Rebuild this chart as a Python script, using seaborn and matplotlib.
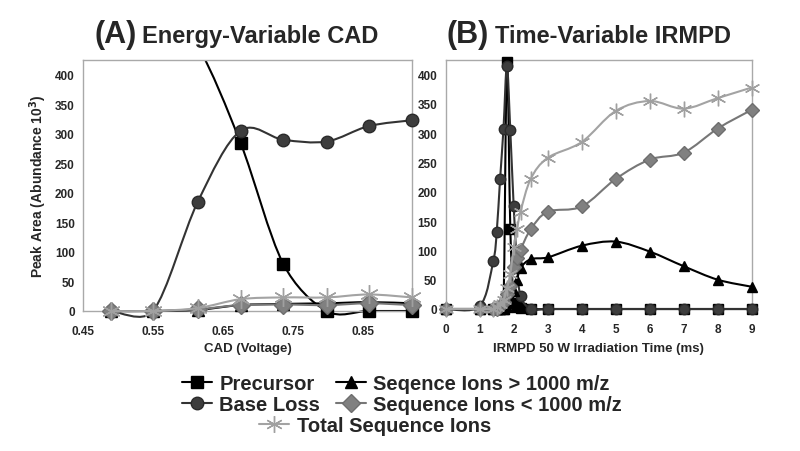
import numpy as np
import matplotlib
matplotlib.use('Agg')
import matplotlib.pyplot as plt
import seaborn as sns
from matplotlib.path import Path
from matplotlib.patches import PathPatch
from matplotlib.lines import Line2D
from matplotlib.transforms import Bbox, TransformedBbox

sns.set_style('white')
plt.rcParams['font.family'] = ['Liberation Sans', 'DejaVu Sans']
plt.rcParams['font.weight'] = 'bold'
plt.rcParams['axes.labelweight'] = 'bold'

# ---- data ----
cad_voltage = [0.49, 0.55, 0.614, 0.675, 0.736, 0.798, 0.858, 0.92]
precursor_a = [600, 560, 450, 285, 80, 0, 0, 0]
base_loss_a = [0, 0, 185, 305, 290, 287, 313, 323]
seq_hi_a = [0, 0, 2, 10, 12, 13, 15, 13]
seq_lo_a = [0, 0, 3, 10, 11, 10, 13, 10]
total_a = [0, 0, 5, 20, 23, 23, 28, 23]

irmpd_time = [0, 1, 1.4, 1.5, 1.6, 1.7, 1.8, 1.9, 2.0, 2.1, 2.2, 2.5, 3, 4, 5, 6, 7, 8, 9]
precursor_b = [0, 0, 0, 0, 0, 0, 421, 137, 10, 3, 2, 0, 0, 0, 0, 0, 0, 0, 0]
base_loss_b = [0, 5, 82, 131, 222, 308, 415, 305, 175, 75, 22, 0, 0, 0, 0, 0, 0, 0, 0]
seq_hi_b = [0, 0, 0, 0, 0, 0, 3, 10, 30, 50, 70, 85, 88, 108, 115, 98, 73, 50, 38]
seq_lo_b = [0, 0, 0, 0, 5, 12, 25, 40, 72, 87, 101, 136, 166, 175, 222, 255, 267, 308, 340]
total_b = [0, 0, 0, 3, 8, 15, 35, 60, 105, 137, 166, 222, 258, 285, 338, 355, 342, 360, 378]

labels = ['Precursor', 'Base Loss', 'Seqence Ions > 1000 m/z',
          'Sequence Ions < 1000 m/z', 'Total Sequence Ions']

styles = {
    'Precursor': dict(marker='s', color='#000000', mec='#000000', line='#000000'),
    'Base Loss': dict(marker='o', color='#3d3d3d', mec='#2a2a2a', line='#333333'),
    'Seqence Ions > 1000 m/z': dict(marker='^', color='#000000', mec='#000000', line='#000000'),
    'Sequence Ions < 1000 m/z': dict(marker='D', color='#808080', mec='#6e6e6e', line='#777777'),
    'Total Sequence Ions': dict(marker=(6, 2, 0), color='#a0a0a0', mec='#a0a0a0', line='#a3a3a3'),
}


def smooth_path(ax, x, y, k=0.4):
    # Bezier "smoothed line" in screen space; handle length capped by the segment length
    pts = ax.transData.transform(np.column_stack([x, y]).astype(float))
    n = len(pts)
    tang = [(pts[min(i + 1, n - 1)] - pts[max(i - 1, 0)]) / 6 for i in range(n)]

    def cap(v, L):
        m = np.hypot(*v)
        return v * (k * L / m) if m > k * L else v

    verts = [pts[0]]
    codes = [Path.MOVETO]
    for i in range(n - 1):
        p1, p2 = pts[i], pts[i + 1]
        L = np.hypot(*(p2 - p1))
        verts += [p1 + cap(tang[i], L), p2 - cap(tang[i + 1], L), p2]
        codes += [Path.CURVE4] * 3
    verts = ax.transData.inverted().transform(np.array(verts))
    return Path(verts, codes)


def draw_panel(ax, x, series, ms, xlim, pad):
    ax.set_xlim(*xlim)
    ax.set_ylim(0, 425)
    line_clip = TransformedBbox(Bbox([[xlim[0] - pad, -30], [xlim[1] + pad, 425]]), ax.transData)
    mark_clip = TransformedBbox(Bbox([[xlim[0] - pad, -30], [xlim[1] + pad, 432]]), ax.transData)
    for i, (lab, y) in enumerate(zip(labels, series)):
        st = styles[lab]
        patch = PathPatch(smooth_path(ax, x, y), facecolor='none', edgecolor=st['line'],
                          lw=1.5, zorder=2 + 2 * i)
        ax.add_patch(patch)
        patch.set_clip_path(None)
        patch.set_clip_box(line_clip)
        sns.lineplot(x=x, y=y, ax=ax, estimator=None, sort=False, legend=False,
                     marker=st['marker'], linestyle='', color=st['color'],
                     markersize=ms * (1.5 if lab == 'Total Sequence Ions' else 1),
                     markeredgecolor=st['mec'], markeredgewidth=1.0, zorder=3 + 2 * i)
        ln = ax.lines[-1]
        ln.set_clip_path(None)
        ln.set_clip_box(mark_clip)
    ax.set_xlim(*xlim)
    ax.set_ylim(0, 425)
    ax.set_yticks(range(0, 401, 50))
    for s in ax.spines.values():
        s.set_color('#a9a9a9')
        s.set_linewidth(1.0)
    ax.tick_params(length=0, labelsize=8.5)
    ax.tick_params(axis='x', pad=10)
    ax.tick_params(axis='y', pad=6)
    ax.set_xlabel('')
    ax.set_ylabel('')


fig = plt.figure(figsize=(8, 4.52), dpi=100)
ax_a = fig.add_axes([83 / 800, 1 - 312 / 452, 329 / 800, 251 / 452])
ax_b = fig.add_axes([445.7 / 800, 1 - 310 / 452, 306 / 800, 249 / 452])

draw_panel(ax_a, cad_voltage, [precursor_a, base_loss_a, seq_hi_a, seq_lo_a, total_a],
           9, (0.45, 0.92), 0.02)
ax_a.set_xticks([0.45, 0.55, 0.65, 0.75, 0.85])
ax_a.set_xticklabels(['0.45', '0.55', '0.65', '0.75', '0.85'])
ax_a.set_xlabel('CAD (Voltage)', fontsize=9.5, labelpad=4)
ax_a.set_ylabel('Peak Area (Abundance 10$^3$)', fontsize=10, labelpad=4)

draw_panel(ax_b, irmpd_time, [precursor_b, base_loss_b, seq_hi_b, seq_lo_b, total_b],
           7.5, (0, 9), 0.4)
ax_b.set_xticks(range(0, 10))
ax_b.set_xlabel('IRMPD 50 W Irradiation Time (ms)', fontsize=9.5, labelpad=5)

# panel titles
fig.text(95 / 800, 1 - 43 / 452, '(A)', fontsize=22, fontweight='bold', va='baseline')
fig.text(142 / 800, 1 - 43 / 452, 'Energy-Variable CAD', fontsize=17, fontweight='bold', va='baseline')
fig.text(446 / 800, 1 - 43 / 452, '(B)', fontsize=22, fontweight='bold', va='baseline')
fig.text(495 / 800, 1 - 43 / 452, 'Time-Variable IRMPD', fontsize=17, fontweight='bold', va='baseline')

# legend
def handle(lab):
    st = styles[lab]
    return Line2D([], [], color=st['line'], lw=1.5, marker=st['marker'],
                  markerfacecolor=st['color'], markeredgecolor=st['mec'],
                  markersize=9 if lab != 'Total Sequence Ions' else 12)

leg_kw = dict(frameon=False, fontsize=14.5, handlelength=1.5, handletextpad=0.35,
              columnspacing=0.8, labelspacing=0.12, borderpad=0)
fig.legend([handle(l) for l in labels[:4]], labels[:4], ncol=2, loc='center',
           bbox_to_anchor=(402 / 800, 1 - 395 / 452), **leg_kw)
fig.legend([handle(labels[4])], [labels[4]], loc='center',
           bbox_to_anchor=(375 / 800, 1 - 427 / 452), **leg_kw)

fig.savefig('out.png', dpi=100)
